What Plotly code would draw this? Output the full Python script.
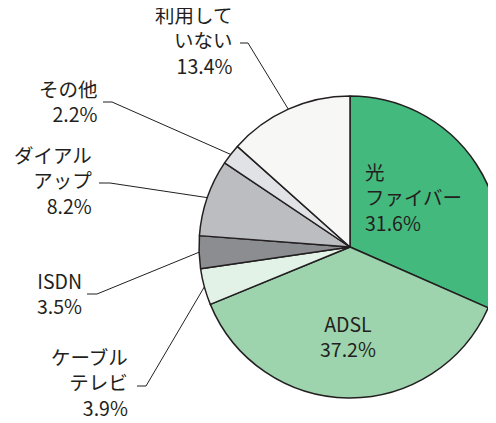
import math
import plotly.graph_objects as go

W, H = 496, 423
OFF = 8  # page body margin offset

categories = ["光ファイバー", "ADSL", "ケーブルテレビ", "ISDN", "ダイアルアップ", "その他", "利用していない"]
values = [31.6, 37.2, 3.9, 3.5, 8.2, 2.2, 13.4]
label_text = ["光<br>ファイバー", "ADSL", "ケーブル<br>テレビ", "ISDN", "ダイアル<br>アップ", "その他", "利用して<br>いない"]
colors = ["#44b97d", "#9dd4ae", "#e2f2e6", "#8c8d91", "#bcbdc1", "#e1e2e6", "#f7f8f6"]

INK = "#231f20"
FONT = "Noto Sans CJK JP"
FS = 19.5

# pie geometry (window pixels)
cx_px, cy_px, r_px = 350, 247, 151


def px(x):
    return (x - OFF) / W


def py(y):
    return 1 - (y - OFF) / H


dom_x = [px(cx_px - r_px), px(cx_px + r_px)]
dom_y = [py(cy_px + r_px), py(cy_px - r_px)]

fig = go.Figure(go.Pie(
    labels=categories,
    values=values,
    sort=False,
    direction="clockwise",
    rotation=0,
    textinfo="none",
    hoverinfo="label+percent",
    marker=dict(colors=colors, line=dict(color=INK, width=1.5)),
    domain=dict(x=dom_x, y=dom_y),
    showlegend=False,
))


def fmt(v):
    return f"{v:.1f}%"


# label layout: (anchor x, anchor y, xanchor, align, leader (start x, y, knee x))
label_pos = {
    "光ファイバー": (363, 197, "left", "left", None),
    "ADSL": (348, 336, "center", "center", None),
    "ケーブルテレビ": (130, 382, "right", "right", (137, 386, 146)),
    "ISDN": (84, 293, "right", "right", (87, 294, 97)),
    "ダイアルアップ": (94, 180, "right", "right", (99, 183, 110)),
    "その他": (100, 101, "right", "right", (103, 102, 112)),
    "利用していない": (234, 40, "right", "right", (240, 43, 248)),
}

total = sum(values)
cum = 0.0
shapes = []
annotations = []
for cat, val, lt in zip(categories, values, label_text):
    mid = (cum + val / 2) / total * 2 * math.pi
    cum += val
    ex = cx_px + r_px * math.sin(mid)
    ey = cy_px - r_px * math.cos(mid)
    ax, ay, xanc, align, leader = label_pos[cat]
    annotations.append(dict(
        x=px(ax), y=py(ay), xref="paper", yref="paper",
        xanchor=xanc, yanchor="middle", align=align,
        text=f"{lt}<br>{fmt(val)}", showarrow=False,
        font=dict(family=FONT, size=FS, color=INK),
    ))
    if leader is not None:
        lx0, ly, lx1 = leader
        shapes.append(dict(
            type="path", xref="paper", yref="paper",
            path=f"M {px(lx0)} {py(ly)} L {px(lx1)} {py(ly)} L {px(ex)} {py(ey)}",
            line=dict(color=INK, width=1),
        ))

fig.update_layout(
    width=W, height=H,
    margin=dict(l=0, r=0, t=0, b=0),
    paper_bgcolor="white",
    plot_bgcolor="white",
    annotations=annotations,
    shapes=shapes,
    font=dict(family=FONT, color=INK),
)

fig.write_html("out.html")
